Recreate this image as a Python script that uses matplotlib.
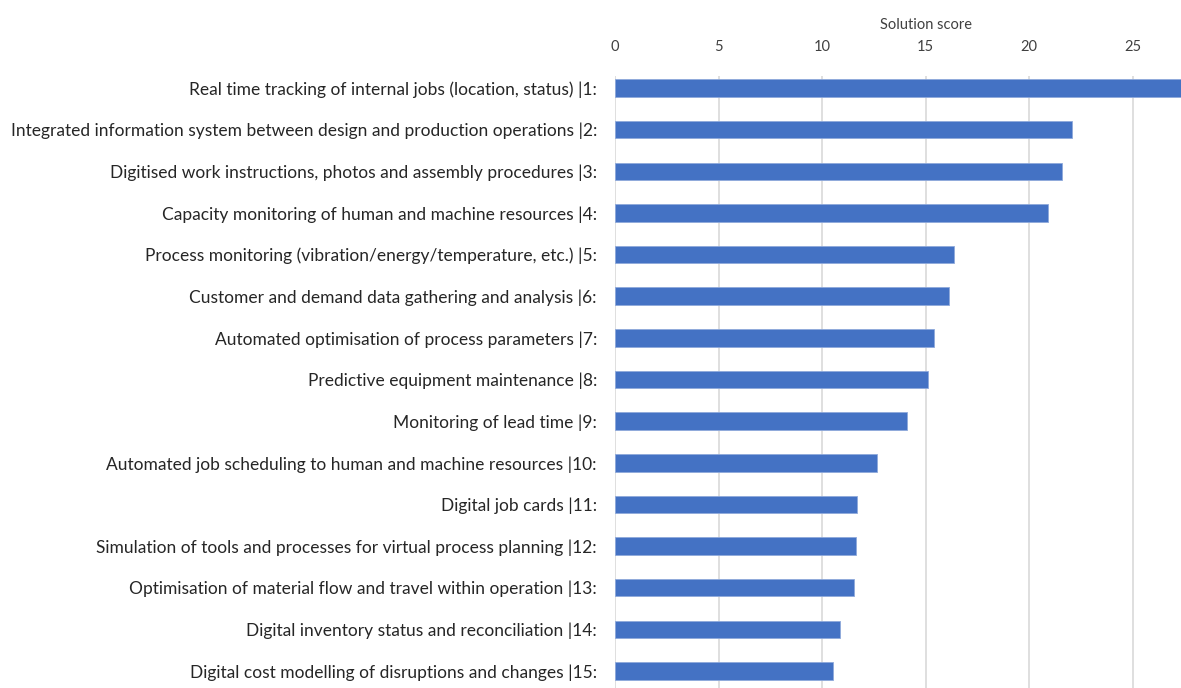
import matplotlib
matplotlib.use("Agg")
import matplotlib.pyplot as plt

categories = [
    "Real time tracking of internal jobs (location, status) |1:",
    "Integrated information system between design and production operations |2:",
    "Digitised work instructions, photos and assembly procedures |3:",
    "Capacity monitoring of human and machine resources |4:",
    "Process monitoring (vibration/energy/temperature, etc.) |5:",
    "Customer and demand data gathering and analysis |6:",
    "Automated optimisation of process parameters |7:",
    "Predictive equipment maintenance |8:",
    "Monitoring of lead time |9:",
    "Automated job scheduling to human and machine resources |10:",
    "Digital job cards |11:",
    "Simulation of tools and processes for virtual process planning |12:",
    "Optimisation of material flow and travel within operation |13:",
    "Digital inventory status and reconciliation |14:",
    "Digital cost modelling of disruptions and changes |15:",
]
scores = [28.0, 22.1, 21.6, 20.9, 16.4, 16.15, 15.4, 15.1, 14.1, 12.65,
          11.7, 11.63, 11.56, 10.87, 10.52]
xticks = [0, 5, 10, 15, 20, 25]

plt.rcParams['font.family'] = ['Lato', 'DejaVu Sans']

W, H = 1181, 688
fig = plt.figure(figsize=(W / 100, H / 100), dpi=100)
left_px, top_px = 615, 76
width_px = 30 * 20.7
ax = fig.add_axes([left_px / W, 0, width_px / W, 1 - top_px / H])

y = list(range(len(categories)))
ax.barh(y, scores, height=0.42, color="#4472C4", edgecolor="#8EA9DB", linewidth=0.6, zorder=3)
ax.set_xlim(0, 30)
ax.set_ylim((H - 88) / 41.64, -(88 - top_px) / 41.64)
ax.set_yticks(y)
ax.set_yticklabels(categories, fontsize=12.55, color="#262626")
ax.tick_params(axis="y", length=0, pad=13)
ax.xaxis.tick_top()
ax.xaxis.set_label_position("top")
ax.set_xticks(xticks)
ax.tick_params(axis="x", length=0, pad=16, labelsize=10.5, labelcolor="#404040")
ax.set_xlabel("Solution score", fontsize=10.5, color="#404040", labelpad=8)
ax.grid(axis="x", color="#D9D9D9", linewidth=1.2, zorder=0)
for s in ax.spines.values():
    s.set_visible(False)

fig.savefig("out.png", dpi=100)
